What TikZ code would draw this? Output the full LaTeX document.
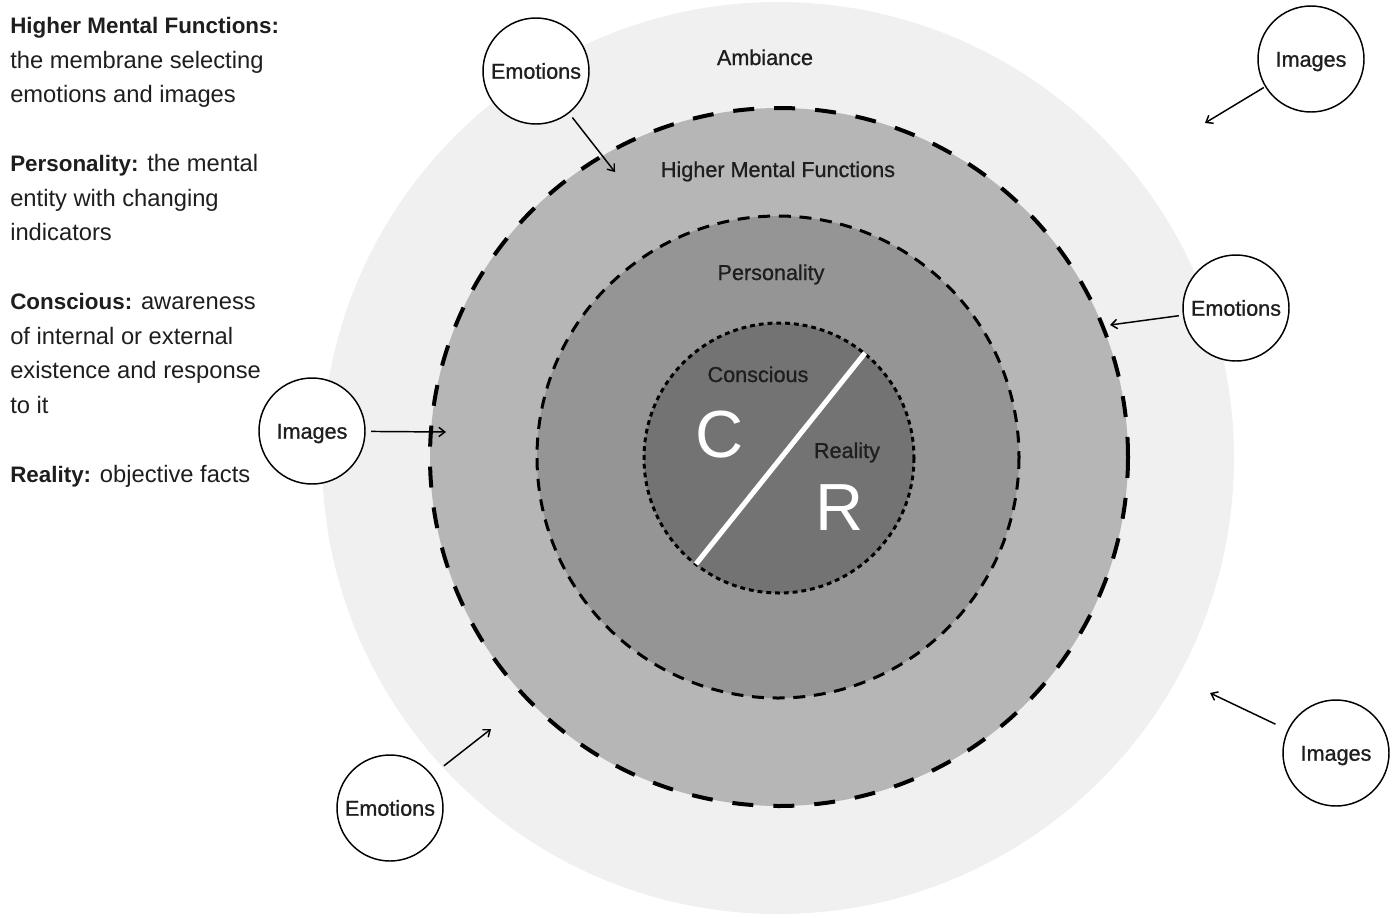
\documentclass[tikz,border=0pt]{standalone}
\usepackage{fontspec}
\setmainfont{Liberation Sans}
\newfontfamily\mediumface[FakeBold=0.9]{Liberation Sans}
\usetikzlibrary{arrows.meta}
\definecolor{ink}{HTML}{1E1E1E}
\definecolor{ambfill}{HTML}{F0F0F0}
\definecolor{hmffill}{HTML}{B6B6B6}
\definecolor{persfill}{HTML}{959595}
\definecolor{consfill}{HTML}{737373}
\newcommand{\legendhead}[1]{{\fontsize{16.8pt}{25.875pt}\selectfont\bfseries #1}}
\begin{document}
\begin{tikzpicture}[x=0.75pt,y=-0.75pt,
  lbl/.style={text=ink, inner sep=0pt, anchor=base, font=\mediumface\fontsize{16.2pt}{19pt}\selectfont},
  letter/.style={text=white, inner sep=0pt, anchor=base, font=\fontsize{50pt}{56pt}\selectfont},
  bubble/.style={circle, draw=black, line width=1.1pt, fill=white, minimum size=79.5pt,
    inner sep=0pt, text=ink, text height=11.6pt, text depth=0pt,
    font=\mediumface\fontsize{16.2pt}{19pt}\selectfont},
  feed/.style={draw=black, line width=1.1pt, -{Straight Barb[length=4.5pt,width=7pt]}},
  hmfline/.style={line width=3pt, dash pattern=on 15.75pt off 15pt},
  persline/.style={line width=2.25pt, dash pattern=on 9pt off 6.5pt},
  consline/.style={line width=2.25pt, dash pattern=on 3.6pt off 3pt},
]
\useasboundingbox (0,0) rectangle (1397,918);

% nested zones
\fill[ambfill] (778,458) circle[radius=456];
\fill[hmffill] (779,457) circle[radius=349];
\fill[persfill] (778,457) circle[radius=241];
\fill[consfill] (779,458) circle[radius=135];
\draw[hmfline] (779,457) circle[radius=349];
\draw[persline] (778,457) circle[radius=241];
\draw[consline] (779,458) circle[radius=135];

% divider between conscious and reality
\draw[white, line width=3.8pt] (865,353) -- (696,564);

% zone labels
\node[lbl] (amb) at (765,65) {Ambiance};
\node[lbl] (hmf) at (778,177) {Higher Mental Functions};
\node[lbl] (pers) at (771,280) {Personality};
\node[lbl] (cons) at (758,382) {Conscious};
\node[lbl] (real) at (847,458) {Reality};
\node[letter] (cl) at (720,457) {C};
\node[letter] (rl) at (840,530) {R};

% incoming emotions and images
\node[bubble] (emoA) at (536,71) {Emotions};
\node[bubble] (imgA) at (1311,59) {Images};
\node[bubble] (emoB) at (1236,308) {Emotions};
\node[bubble] (imgB) at (312,431) {Images};
\node[bubble] (emoC) at (390,808) {Emotions};
\node[bubble] (imgC) at (1336,753) {Images};

\coordinate (tA) at (615,172);
\coordinate (tB) at (1205,123);
\coordinate (tC) at (1110,325);
\coordinate (tD) at (446,432);
\coordinate (tE) at (491,729);
\coordinate (tF) at (1210,693);

\draw[feed, shorten <=4pt] (emoA) -- (tA);
\draw[feed, shorten <=1pt] (imgA) -- (tB);
\draw[feed, shorten <=3pt] (emoB) -- (tC);
\draw[feed, shorten <=4pt] (imgB) -- (tD);
\draw[feed, shorten <=11pt] (emoC) -- (tE);
\draw[feed, shorten <=10pt] (imgC) -- (tF);

% legend
\node[anchor=north west, inner sep=0pt, align=left, text=ink,
  font=\fontsize{17.8pt}{25.875pt}\selectfont] (legend) at (10,17)
  {\legendhead{Higher Mental Functions:}\\
   the membrane selecting\\
   emotions and images\\[25.875pt]
   \legendhead{Personality:} the mental\\
   entity with changing\\
   indicators\\[25.875pt]
   \legendhead{Conscious:} awareness\\
   of internal or external\\
   existence and response\\
   to it\\[25.875pt]
   \legendhead{Reality:} objective facts};
\end{tikzpicture}
\end{document}
